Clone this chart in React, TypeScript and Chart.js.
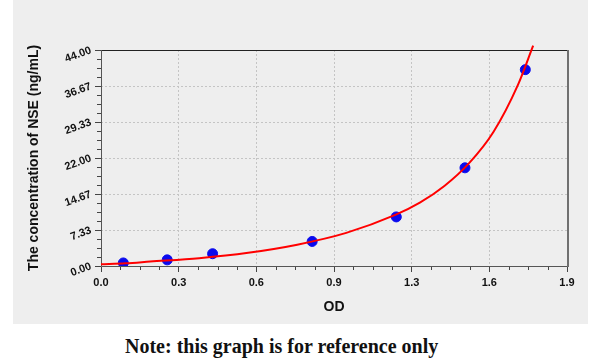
import React, { useEffect, useRef } from "react";
import { Chart, registerables } from "chart.js";

Chart.register(...registerables);

// Standard points (OD, concentration ng/mL)
const POINT_OD = [0.091, 0.27, 0.455, 0.861, 1.204, 1.484, 1.73];
const POINT_CONC = [0.625, 1.25, 2.5, 5, 10, 20, 40];

// Fitted curve
const CURVE_OD = [0, 0.1, 0.2, 0.4, 0.6, 0.8, 1.0, 1.2, 1.3, 1.4, 1.5, 1.6, 1.7, 1.762];
const CURVE_CONC = [0.35, 0.55, 0.9, 1.6, 2.7, 4.35, 6.75, 10.4, 12.9, 16.3, 20.9, 27.3, 36.9, 44.9];

const X_MAX = 1.9;
const Y_MAX = 44;
const X_TICK_LABELS = ["0.0", "0.3", "0.6", "0.9", "1.3", "1.6", "1.9"];
const Y_TICK_LABELS = ["0.00", "7.33", "14.67", "22.00", "29.33", "36.67", "44.00"];

const X_TITLE = "OD";
const Y_TITLE = "The concentration of NSE (ng/mL)";
const NOTE = "Note: this graph is for reference only";

const SANS = "'Liberation Sans', Arial, sans-serif";

const framePlugin = {
  id: "frame",
  beforeDatasetsDraw(chart: any) {
    const { ctx, chartArea } = chart;
    const { left, right, top, bottom } = chartArea;
    const xs = chart.scales.x;
    const ys = chart.scales.y;
    ctx.save();
    // minor ticks
    ctx.strokeStyle = "#444";
    ctx.lineWidth = 1;
    const nx = X_TICK_LABELS.length - 1;
    const stepX = X_MAX / nx;
    for (let i = 0; i < nx; i++) {
      for (let k = 1; k < 4; k++) {
        const px = Math.round(xs.getPixelForValue(i * stepX + (k * stepX) / 4)) + 0.5;
        ctx.beginPath();
        ctx.moveTo(px, bottom);
        ctx.lineTo(px, bottom + 4);
        ctx.stroke();
      }
    }
    const ny = Y_TICK_LABELS.length - 1;
    const stepY = Y_MAX / ny;
    for (let i = 0; i < ny; i++) {
      for (let k = 1; k < 4; k++) {
        const py = Math.round(ys.getPixelForValue(i * stepY + (k * stepY) / 4)) + 0.5;
        ctx.beginPath();
        ctx.moveTo(left, py);
        ctx.lineTo(left - 4, py);
        ctx.stroke();
      }
    }
    // frame
    ctx.strokeStyle = "#222";
    ctx.beginPath();
    ctx.moveTo(Math.round(left) + 0.5, Math.round(top) + 0.5);
    ctx.lineTo(Math.round(right), Math.round(top) + 0.5);
    ctx.stroke();
    ctx.strokeStyle = "#555";
    ctx.beginPath();
    ctx.moveTo(Math.round(left) + 0.5, Math.round(top));
    ctx.lineTo(Math.round(left) + 0.5, Math.round(bottom) + 0.5);
    ctx.lineTo(Math.round(right), Math.round(bottom) + 0.5);
    ctx.stroke();
    ctx.strokeStyle = "#707070";
    ctx.lineWidth = 2;
    ctx.beginPath();
    ctx.moveTo(Math.round(right) + 1, Math.round(top));
    ctx.lineTo(Math.round(right) + 1, Math.round(bottom) + 1);
    ctx.stroke();
    ctx.restore();
  },
};

export default function App() {
  const ref = useRef<HTMLCanvasElement | null>(null);

  useEffect(() => {
    if (!ref.current) return;
    const tickFont = { family: SANS, size: 11, weight: "bold" as const };
    const titleFont = { family: SANS, size: 14, weight: "bold" as const };
    const chart = new Chart(ref.current, {
      type: "scatter",
      data: {
        datasets: [
          {
            type: "line",
            data: CURVE_OD.map((x, i) => ({ x, y: CURVE_CONC[i] })),
            borderColor: "#ff0000",
            backgroundColor: "#ff0000",
            borderWidth: 2,
            pointRadius: 0,
            cubicInterpolationMode: "monotone",
            fill: false,
            clip: false,
            order: 0,
          } as any,
          {
            type: "scatter",
            data: POINT_OD.map((x, i) => ({ x, y: POINT_CONC[i] })),
            backgroundColor: "#0a0aee",
            borderColor: "#0a0aee",
            pointRadius: 5,
            order: 1,
          } as any,
        ],
      },
      options: {
        animation: false,
        responsive: false,
        maintainAspectRatio: false,
        layout: { padding: { left: 0, top: 50, right: 21, bottom: 0 } },
        plugins: { legend: { display: false }, tooltip: { enabled: false } },
        scales: {
          x: {
            type: "linear",
            min: 0,
            max: X_MAX,
            afterBuildTicks: (s: any) => {
              s.ticks = X_TICK_LABELS.map((_, i) => ({ value: (i * X_MAX) / (X_TICK_LABELS.length - 1) }));
            },
            afterFit: (s: any) => {
              s.height = 58;
            },
            ticks: {
              callback: (_v: any, i: number) => X_TICK_LABELS[i],
              font: tickFont,
              color: "#111",
              padding: 4,
              maxRotation: 0,
              minRotation: 0,
            },
            grid: { color: "#c4c4c4", tickColor: "#444", tickLength: 6, lineWidth: 1 },
            border: { display: false, dash: [2, 2] },
            title: { display: true, text: X_TITLE, font: titleFont, color: "#111", padding: { top: 0, bottom: 8 } },
          },
          y: {
            type: "linear",
            min: 0,
            max: Y_MAX,
            afterBuildTicks: (s: any) => {
              s.ticks = Y_TICK_LABELS.map((_, i) => ({ value: (i * Y_MAX) / (Y_TICK_LABELS.length - 1) }));
            },
            afterFit: (s: any) => {
              s.width = 88;
            },
            ticks: {
              callback: (_v: any, i: number) => Y_TICK_LABELS[i],
              font: tickFont,
              color: "#111",
              padding: 4,
              minRotation: 20,
              maxRotation: 20,
            },
            grid: { color: "#c4c4c4", tickColor: "#444", tickLength: 6, lineWidth: 1 },
            border: { display: false, dash: [2, 2] },
            title: { display: true, text: Y_TITLE, font: titleFont, color: "#111", padding: { top: 13, bottom: 0 } },
          },
        },
      } as any,
      plugins: [framePlugin],
    });
    return () => chart.destroy();
  }, []);

  return (
    <div style={{ position: "absolute", left: 0, top: 0, width: 600, height: 364, background: "#ffffff", overflow: "hidden" }}>
      <div style={{ position: "absolute", left: 13, top: 0, width: 575, height: 324, background: "#eeeeee" }}>
        <canvas ref={ref} width={575} height={324} style={{ width: 575, height: 324, display: "block" }} />
      </div>
      <div
        style={{
          position: "absolute",
          left: 125,
          top: 336,
          fontFamily: "'Liberation Serif', 'Times New Roman', serif",
          fontWeight: "bold",
          fontSize: 20,
          lineHeight: "20px",
          color: "#111",
          whiteSpace: "nowrap",
        }}
      >
        {NOTE}
      </div>
    </div>
  );
}
